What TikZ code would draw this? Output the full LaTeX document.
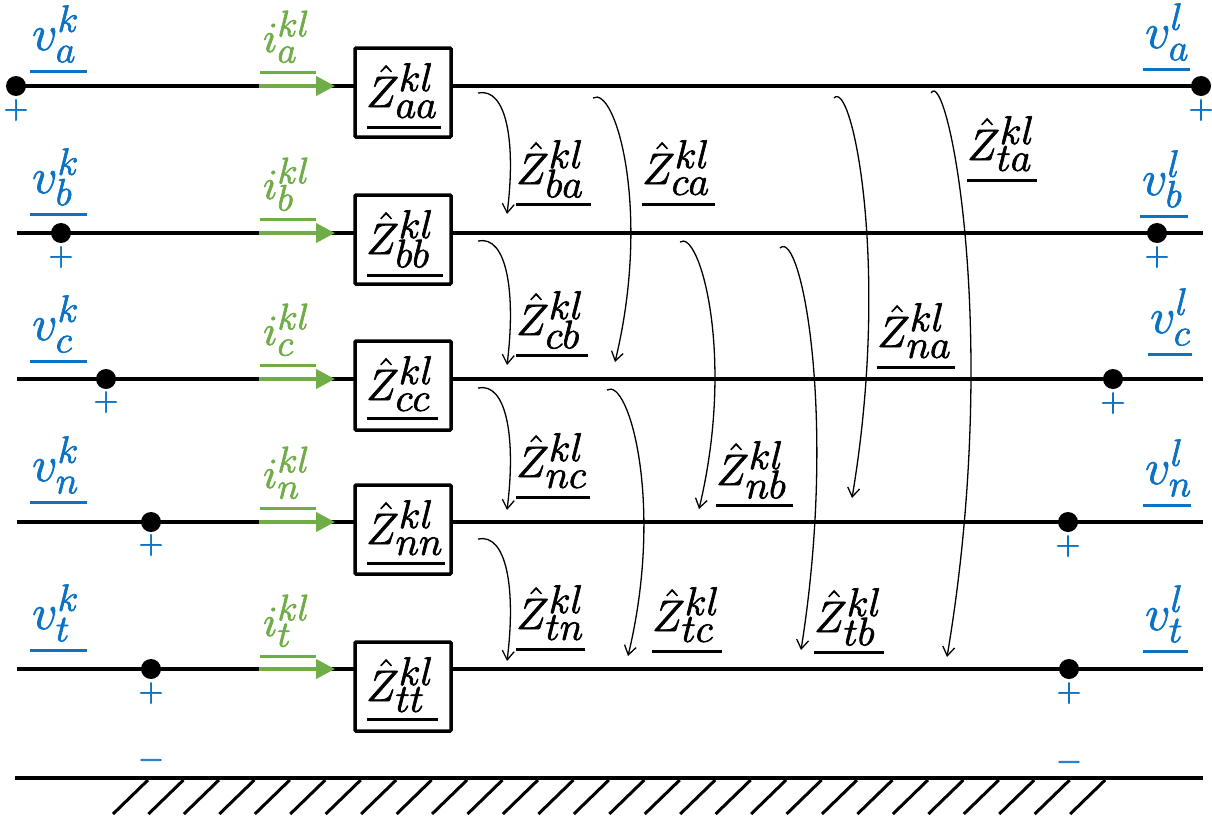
\RequirePackage{fix-cm}
\documentclass[tikz,border=0pt]{standalone}
\usetikzlibrary{arrows.meta}
\definecolor{vblue}{HTML}{0B72C4}
\definecolor{igreen}{HTML}{70AD47}
\DeclareMathSizes{44}{44}{40}{30}
\DeclareMathSizes{43}{43}{37}{30}
\DeclareMathSizes{50}{50}{38}{30}
\newcommand{\heavy}[1]{\special{pdf:code 2 Tr 0.7 w}#1\special{pdf:code 0 Tr}}
\newcommand{\zsym}[1]{\fontsize{44}{48}\selectfont\heavy{$\hat{Z}^{kl}_{#1}$}}
\newcommand{\vsym}[2]{\fontsize{50}{54}\selectfont\heavy{$v^{#1}_{#2}$}}
\newcommand{\isym}[1]{\fontsize{43}{48}\selectfont\heavy{$i^{kl}_{#1}$}}
\tikzset{
  x=1pt,y=-1pt,
  wire/.style={line width=3.5pt,black},
  zbox/.style={draw,line width=3.5pt,rounded corners=1pt,fill=white},
  rule/.style={line width=3pt},
  dotn/.style={circle,fill=black,inner sep=0pt,minimum size=20pt},
  sign/.style={text=vblue,inner sep=0pt,font=\fontsize{34}{34}\selectfont},
  lab/.style={inner sep=0pt,anchor=base west},
  curr/.style={igreen,line width=4pt,-{Triangle[length=19pt,width=19pt]}},
  coupl/.style={line width=1.3pt,-{Straight Barb[length=9pt,width=12pt]}},
  hatchl/.style={line width=3pt}
}
\newcommand{\zlabel}[5]{% name, sub, x1, x2, uy
  \node[lab] (#1) at (#3,#5-20) {\zsym{#2}};
  \draw[rule] (#3,#5) -- (#4,#5);
}
\newcommand{\zboxed}[4]{% name,sub,ytop,ybot
  \node[zbox,minimum width=96pt,minimum height={#4-#3},inner sep=0pt] (#1) at (403,{(#3+#4)/2}) {};
  \node[lab] at (366,#4-30) {\zsym{#2}};
}
\begin{document}
\begin{tikzpicture}
\useasboundingbox (0,0) rectangle (1212,819);
% coordinates for wires
\foreach \n/\y/\xl/\xr in {a/86/16/1201,b/233/17/1203,c/379/17/1203,n/522/17/1203,t/669/17/1203}{
  \coordinate (L\n) at (\xl,\y);
  \coordinate (R\n) at (\xr,\y);
  \draw[wire] (L\n) -- (R\n);
}
\coordinate (GL) at (15,778); \coordinate (GR) at (1203,778);
\draw[wire] (GL) -- (GR);
\foreach \i in {0,...,27}{
  \draw[hatchl] ({148+35.45*\i},780) -- ({113+35.45*\i},814);
}
% boxes
\zboxed{Zaa}{aa}{48}{137}
\zboxed{Zbb}{bb}{195}{284}
\zboxed{Zcc}{cc}{341}{430}
\zboxed{Znn}{nn}{485}{574}
\zboxed{Ztt}{tt}{642}{731}
\draw[rule] (367,127)--(441,127);
\draw[rule] (367,275)--(443,275);
\draw[rule] (367,418)--(438,418);
\draw[rule] (367,563)--(445,563);
\draw[rule] (367,719)--(438,719);
% dots and signs
\foreach \nm/\x/\y/\sy in {da/16/86/110,db/61/233/257,dc/106/379/402,dn/151/522/545,dt/151/669/693,ea/1201/86/110,eb/1157/233/257,ec/1113/379/403,en/1068/522/546,et/1069/669/693}{
  \node[dotn] (\nm) at (\x,\y) {};
  \node[sign] (\nm p) at (\x,\sy) {\heavy{$+$}};
}
\node[sign] (m1) at (151,760) {\heavy{$-$}};
\node[sign] (m2) at (1069,762) {\heavy{$-$}};
% currents
\foreach \n/\y/\u in {a/86/72,b/233/219,c/379/365,n/522/508,t/669/656}{
  \coordinate (cs\n) at (259,\y); \coordinate (ce\n) at (335,\y);
  \draw[curr] (cs\n) -- (ce\n);
  \draw[igreen,line width=3pt] (260,\u) -- (316,\u);
  \node[lab,text=igreen] (i\n) at (263,\u-20) {\isym{\n}};
}
% left voltages
\foreach \n/\u in {a/71,b/214,c/361,n/502,t/650}{
  \draw[vblue,line width=3pt] (30,\u) -- (87,\u);
  \node[lab,text=vblue] (vl\n) at (32,\u-21) {\vsym{k}{\n}};
}
% right voltages
\foreach \n/\a/\b/\u in {a/1143/1190/69,b/1140/1188/216,c/1148/1192/354,n/1143/1191/505,t/1143/1188/651}{
  \draw[vblue,line width=3pt] (\a,\u) -- (\b,\u);
  \node[lab,text=vblue] (vr\n) at (\a+2,\u-21) {\vsym{l}{\n}};
}
% mutual labels
\zlabel{Zba}{ba}{516}{591}{204}
\zlabel{Zca}{ca}{642}{715}{204}
\zlabel{Zta}{ta}{967}{1037}{180}
\zlabel{Zcb}{cb}{516}{588}{355}
\zlabel{Zna}{na}{877}{955}{367}
\zlabel{Znc}{nc}{516}{590}{497}
\zlabel{Znb}{nb}{716}{793}{505}
\zlabel{Ztn}{tn}{516}{585}{649}
\zlabel{Ztc}{tc}{652}{722}{651}
\zlabel{Ztb}{tb}{814}{884}{652}
% coupling arrows
\foreach \nm/\xa/\ya/\xb/\yb/\bul in {ba/478/93/507/214/9,cb/478/241/507/365/9,nc/478/388/507/510/9,tn/478/539/507/661/9,ca/593/98/615/362/37,tc/607/390/628/656/37,nb/680/242/699/509/37,tb/780/248/801/650/37,ta/931/93/947/657/55,na/834/98/852/498/39}{
  \coordinate (s\nm) at (\xa,\ya);
  \coordinate (t\nm) at (\xb,\yb);
  \draw[coupl] (s\nm) .. controls ({\xb},{\ya-0.05*(\yb-\ya)}) and ({\xb+\bul},{\ya+0.42*(\yb-\ya)}) .. (t\nm);
}
\end{tikzpicture}
\end{document}
